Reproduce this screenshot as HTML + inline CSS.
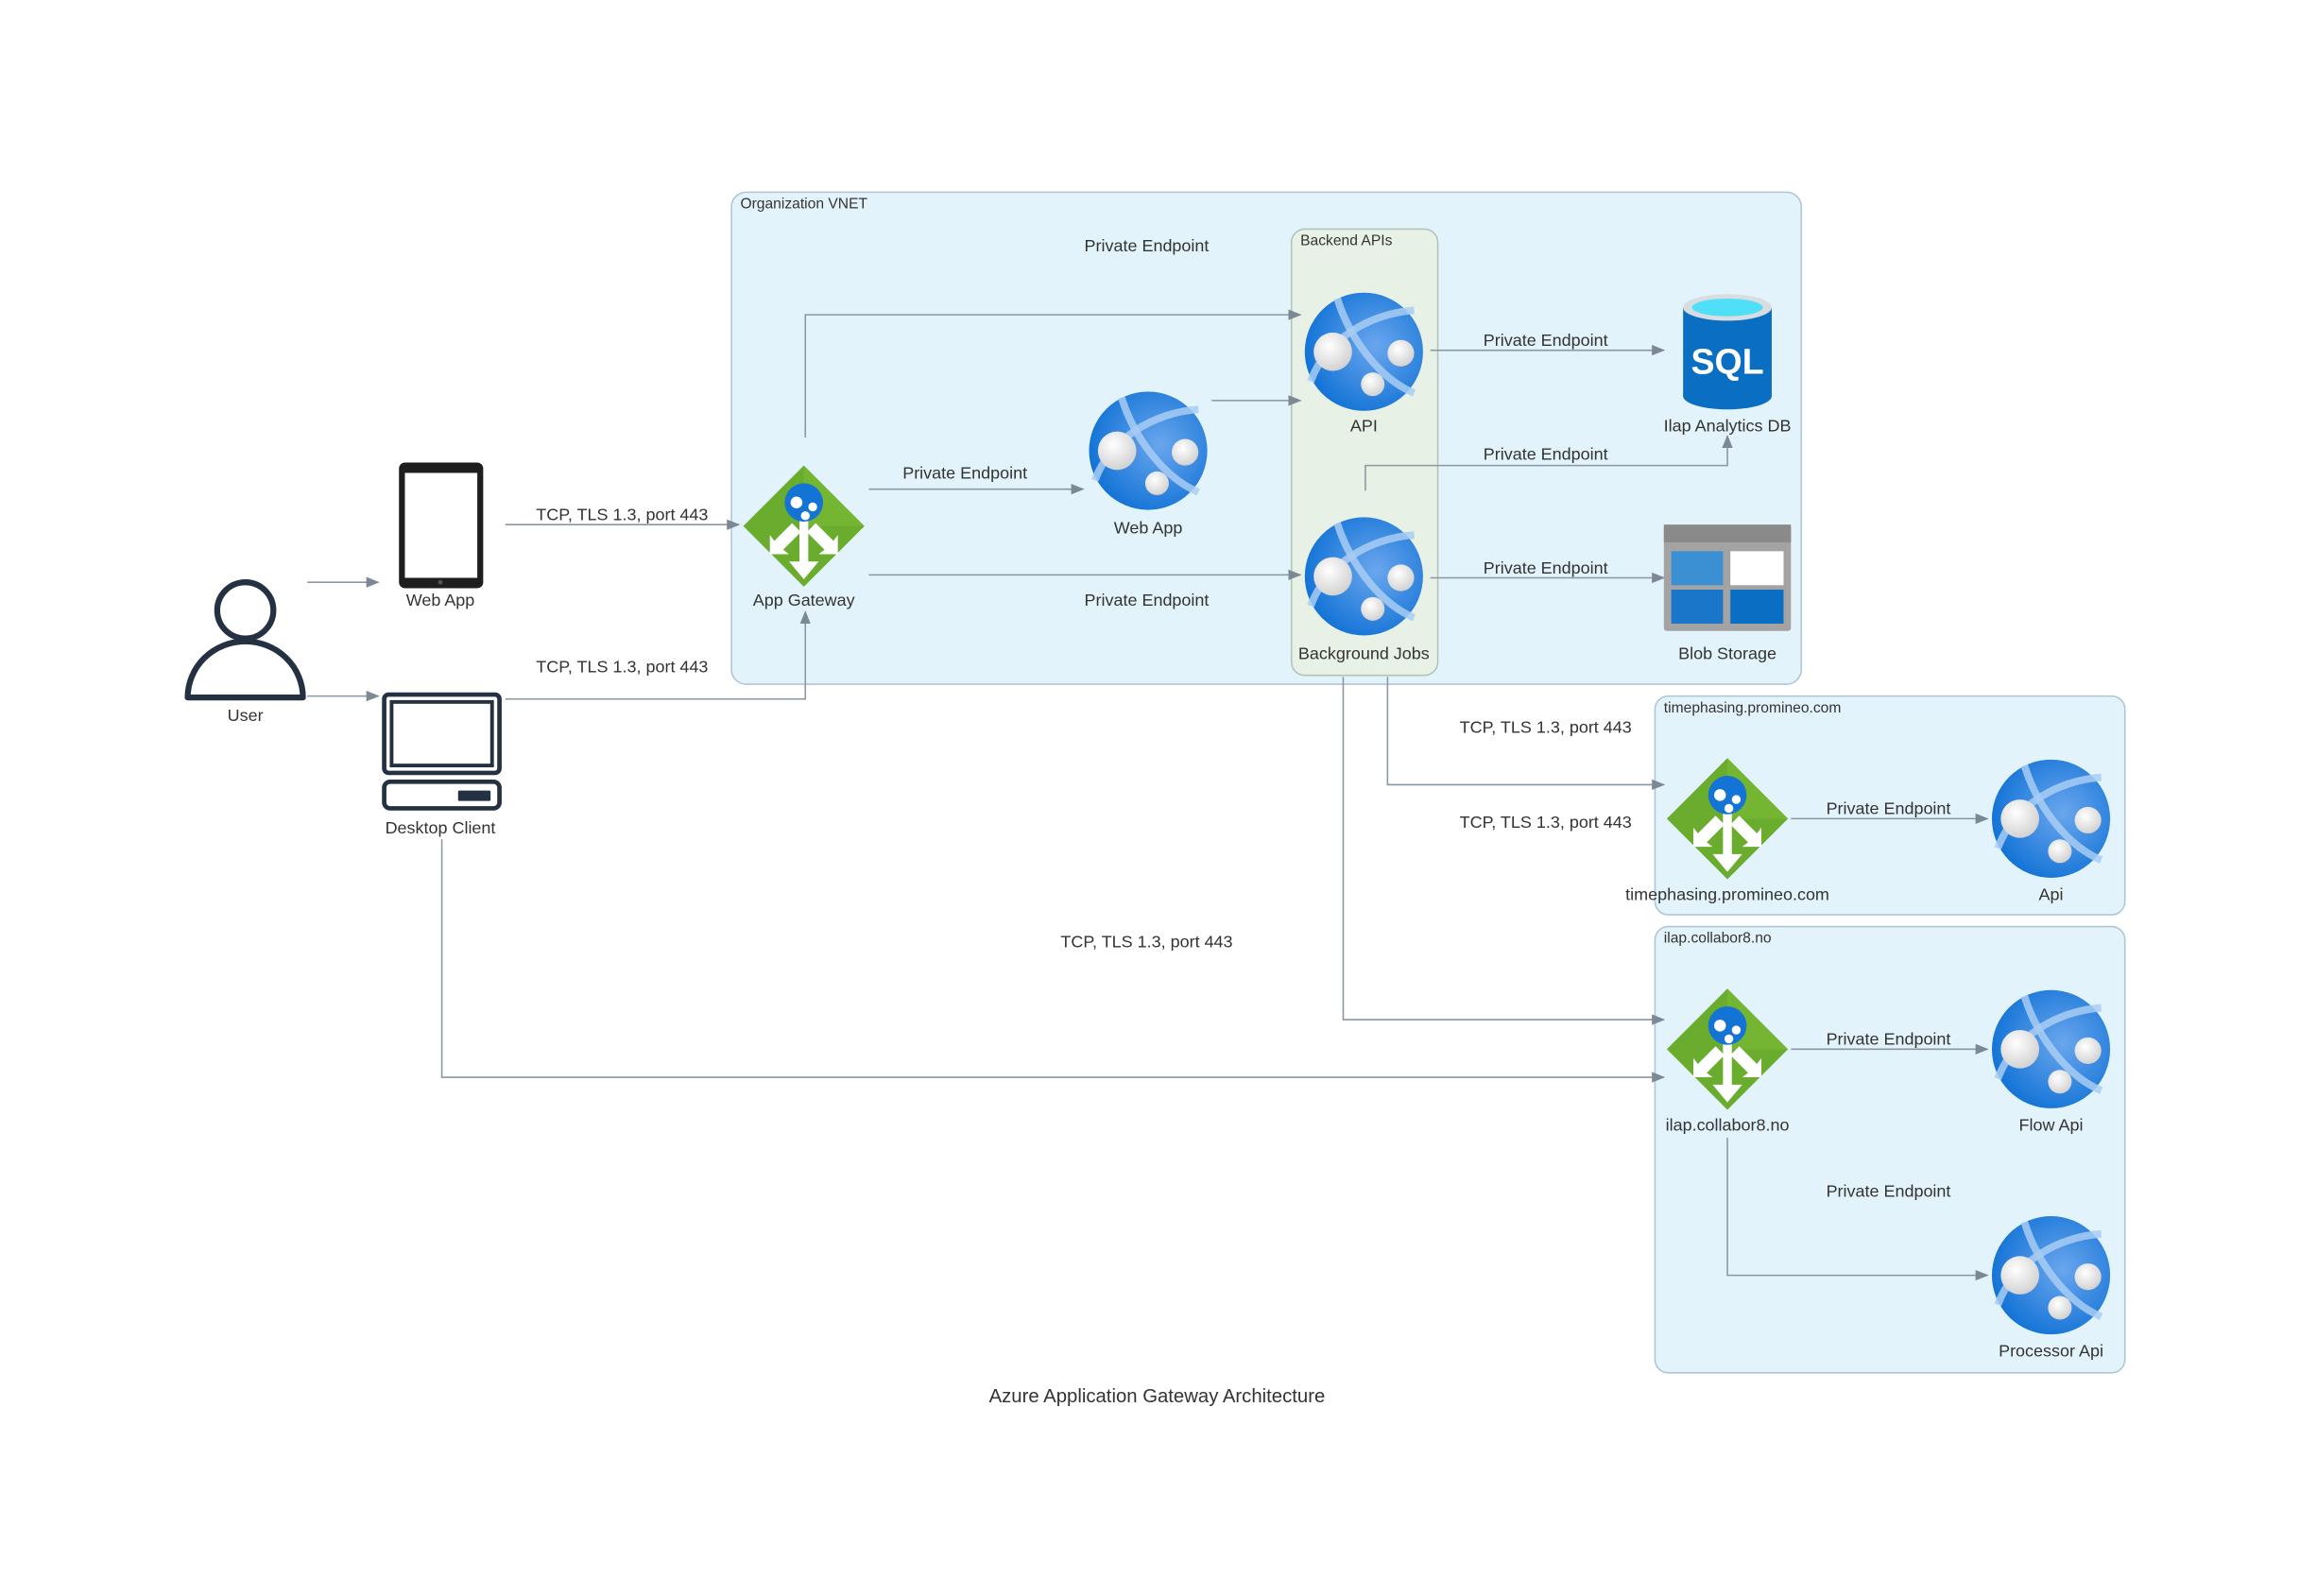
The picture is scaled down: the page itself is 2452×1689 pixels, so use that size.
<!DOCTYPE html>
<html><head><meta charset="utf-8"><style>
html,body{margin:0;padding:0;background:#fff;width:2452px;height:1689px;overflow:hidden}
svg{display:block}
text{font-family:"Liberation Sans",sans-serif;fill:#333;font-size:11.5px}
.c{text-anchor:middle}
.ln{fill:none;stroke:#8a96a3;stroke-width:1}
</style></head><body>
<svg width="2452" height="1689" viewBox="0 0 1568 1080" xmlns="http://www.w3.org/2000/svg">
<defs>
<marker id="a" viewBox="0 0 10 10" refX="9" refY="5" markerWidth="9" markerHeight="9" orient="auto" markerUnits="userSpaceOnUse"><path d="M0,1 L10,5 L0,9 z" fill="#7d8895"/></marker>
<radialGradient id="gb" cx="0.6" cy="0.45" r="0.6"><stop offset="0" stop-color="#6aa6ee"/><stop offset="1" stop-color="#1474d6"/></radialGradient>
<radialGradient id="wb" cx="0.4" cy="0.35" r="0.7"><stop offset="0" stop-color="#fff"/><stop offset="1" stop-color="#cfcfcf"/></radialGradient>
<g id="globe">
<ellipse cx="0" cy="0" rx="40" ry="40" fill="url(#gb)"/>
<path d="M-18,-36 C-10,-10 10,18 34,28" stroke="#a8cdf3" stroke-width="5" fill="none" opacity=".85"/>
<path d="M-36,20 C-26,-8 4,-26 34,-28" stroke="#a8cdf3" stroke-width="5" fill="none" opacity=".85"/>
<circle cx="-21" cy="0" r="13" fill="url(#wb)"/>
<circle cx="25" cy="1" r="9" fill="url(#wb)"/>
<circle cx="6" cy="22" r="8" fill="url(#wb)"/>
</g>
<g id="gw">
<path d="M0,-41 L41,0 L0,41 L-41,0 z" fill="#6aac2e"/>
<path d="M0,-41 L41,0 L0,0 z" fill="#7bbd35" opacity=".6"/>
<path d="M-3,-6 h6 v30 h7 l-10,12 l-10,-12 h7z" fill="#fff"/>
<path d="M-8,-2 l-12,12 l-3,-4 v13 h13 l-4,-3 l12,-12z" fill="#fff"/>
<path d="M8,-2 l12,12 l3,-4 v13 h-13 l4,-3 l-12,-12z" fill="#fff"/>
<circle cx="0" cy="-16" r="13" fill="#1474d6"/>
<circle cx="-5" cy="-16" r="4" fill="#fff"/><circle cx="6" cy="-13" r="3" fill="#fff"/><circle cx="1" cy="-7" r="3" fill="#fff"/>
</g>
</defs>

<!-- containers -->
<rect x="495" y="130" width="724" height="333" rx="10" fill="#e3f3fb" stroke="#aec6d4"/>
<text x="501" y="141" style="font-size:10px">Organization VNET</text>
<rect x="874" y="155" width="99" height="302" rx="9" fill="#e8f1e6" stroke="#b4c3b8"/>
<text x="880" y="166" style="font-size:10px">Backend APIs</text>
<rect x="1120" y="471" width="318" height="148" rx="9" fill="#e3f3fb" stroke="#aec6d4"/>
<text x="1126" y="482" style="font-size:10px">timephasing.promineo.com</text>
<rect x="1120" y="627" width="318" height="302" rx="9" fill="#e3f3fb" stroke="#aec6d4"/>
<text x="1126" y="638" style="font-size:10px">ilap.collabor8.no</text>

<!-- connectors -->
<g class="ln" marker-end="url(#a)">
<path d="M208,394 H256"/>
<path d="M208,471 H256"/>
<path d="M342,355 H500"/>
<path d="M342,473 H545 V414"/>
<path d="M299,568 V729 H1126"/>
<path d="M545,296 V213 H880"/>
<path d="M588,331 H733"/>
<path d="M588,389 H880"/>
<path d="M820,271 H880"/>
<path d="M968,237 H1126"/>
<path d="M924,332 V315 H1169 V295"/>
<path d="M968,391 H1126"/>
<path d="M909,458 V690 H1126"/>
<path d="M939,458 V531 H1126"/>
<path d="M1212,554 H1345"/>
<path d="M1212,710 H1345"/>
<path d="M1169,770 V863 H1345"/>
</g>

<!-- connector labels -->
<text class="c" x="421" y="352">TCP, TLS 1.3, port 443</text>
<text class="c" x="421" y="455">TCP, TLS 1.3, port 443</text>
<text class="c" x="776" y="641">TCP, TLS 1.3, port 443</text>
<text class="c" x="776" y="170">Private Endpoint</text>
<text class="c" x="653" y="324">Private Endpoint</text>
<text class="c" x="776" y="410">Private Endpoint</text>
<text class="c" x="1046" y="234">Private Endpoint</text>
<text class="c" x="1046" y="311">Private Endpoint</text>
<text class="c" x="1046" y="388">Private Endpoint</text>
<text class="c" x="1046" y="496">TCP, TLS 1.3, port 443</text>
<text class="c" x="1046" y="560">TCP, TLS 1.3, port 443</text>
<text class="c" x="1278" y="551">Private Endpoint</text>
<text class="c" x="1278" y="707">Private Endpoint</text>
<text class="c" x="1278" y="810">Private Endpoint</text>

<!-- user -->
<circle cx="166" cy="413" r="19" fill="none" stroke="#243142" stroke-width="4"/>
<path d="M127,472 A39,38 0 0 1 205,472 Z" fill="none" stroke="#243142" stroke-width="4" stroke-linejoin="round"/>
<text class="c" x="166" y="488">User</text>

<!-- tablet -->
<rect x="270" y="313" width="57" height="85" rx="4" fill="#1e1e1e"/>
<rect x="274" y="320" width="49" height="71" fill="#fff"/>
<circle cx="298" cy="394" r="1.5" fill="#555"/>
<text class="c" x="298" y="410">Web App</text>

<!-- desktop -->
<rect x="260" y="470" width="78" height="53" rx="3" fill="none" stroke="#243142" stroke-width="3"/>
<rect x="265" y="475" width="68" height="43" fill="none" stroke="#243142" stroke-width="2.5"/>
<rect x="260" y="529" width="78" height="18" rx="4" fill="none" stroke="#243142" stroke-width="3"/>
<rect x="310" y="535" width="22" height="7" rx="1" fill="#243142"/>
<text class="c" x="298" y="564">Desktop Client</text>

<!-- nodes -->
<use href="#gw" x="544" y="356"/>
<text class="c" x="544" y="410">App Gateway</text>
<use href="#globe" x="777" y="305"/>
<text class="c" x="777" y="361">Web App</text>
<use href="#globe" x="923" y="238"/>
<text class="c" x="923" y="292">API</text>
<use href="#globe" x="923" y="390"/>
<text class="c" x="923" y="446">Background Jobs</text>

<!-- SQL -->
<path d="M1139,208 V268 A30,9 0 0 0 1199,268 V208 Z" fill="#0a6fc2"/>
<ellipse cx="1169" cy="208" rx="30" ry="9" fill="#d9dde2"/>
<ellipse cx="1169" cy="208" rx="24" ry="6" fill="#4fe0f7"/>
<text class="c" x="1169" y="253" style="font-size:24px;font-weight:bold;fill:#fff">SQL</text>
<text class="c" x="1169" y="292">Ilap Analytics DB</text>

<!-- Blob -->
<rect x="1126" y="355" width="86" height="72" rx="2" fill="#a3a3a3"/>
<rect x="1126" y="355" width="86" height="12" fill="#8a8a8a"/>
<rect x="1131" y="373" width="35" height="23" fill="#3b8fd3"/>
<rect x="1171" y="373" width="36" height="23" fill="#fff"/>
<rect x="1131" y="399" width="35" height="23" fill="#1a76c8"/>
<rect x="1171" y="399" width="36" height="23" fill="#0a6fc2"/>
<text class="c" x="1169" y="446">Blob Storage</text>

<use href="#gw" x="1169" y="554"/>
<text class="c" x="1169" y="609">timephasing.promineo.com</text>
<use href="#globe" x="1388" y="554"/>
<text class="c" x="1388" y="609">Api</text>
<use href="#gw" x="1169" y="710"/>
<text class="c" x="1169" y="765">ilap.collabor8.no</text>
<use href="#globe" x="1388" y="710"/>
<text class="c" x="1388" y="765">Flow Api</text>
<use href="#globe" x="1388" y="863"/>
<text class="c" x="1388" y="918">Processor Api</text>

<text class="c" x="783" y="949" style="font-size:13px">Azure Application Gateway Architecture</text>
</svg>
</body></html>
